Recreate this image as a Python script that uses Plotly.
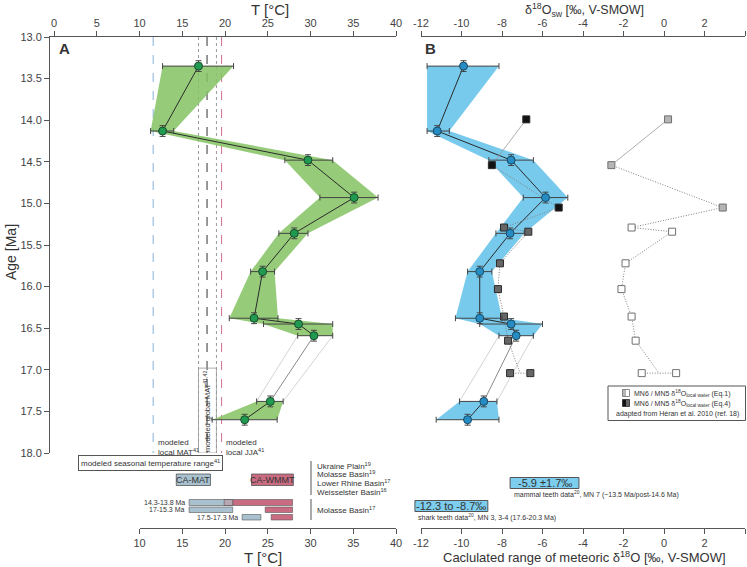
import plotly.graph_objects as go

W, H = 747, 567
FONT = "Liberation Sans, Arial, sans-serif"
TXT = "#333333"

# ---------------- data ----------------
age = [13.35, 14.13, 14.48, 14.93, 15.36, 15.82, 16.38, 16.45, 16.59, 17.38, 17.60]
age_err = 0.065

T_mean = [16.9, 12.7, 29.7, 35.1, 28.1, 24.4, 23.4, 28.6, 30.4, 25.3, 22.3]
T_low = [12.7, 11.3, 27.0, 31.1, 26.3, 23.0, 20.5, 24.5, 28.5, 23.7, 18.5]
T_high = [21.0, 14.0, 32.6, 37.9, 29.7, 25.8, 26.2, 32.6, 32.6, 26.8, 26.1]

d18O_mean = [-9.9, -11.2, -7.55, -5.85, -7.6, -9.1, -9.1, -7.55, -7.3, -8.9, -9.7]
d18O_low = [-11.7, -11.7, -8.65, -6.95, -8.3, -9.7, -10.3, -9.1, -8.15, -10.1, -11.25]
d18O_high = [-8.15, -10.6, -6.45, -4.75, -6.9, -8.5, -8.0, -6.0, -6.45, -8.25, -8.15]

shaded_groups = [(0, 9), (9, 11)]

sq_age = [13.99, 14.54, 15.05, 15.29, 15.34, 15.72, 16.03, 16.36, 16.65, 17.04, 17.04]
sq_eq4 = [-6.8, -8.5, -5.2, -7.9, -6.7, -8.1, -8.2, -7.9, -7.7, -7.6, -6.6]
sq_eq1 = [0.2, -2.6, 2.9, -1.6, 0.4, -1.9, -2.1, -1.6, -1.4, -1.1, 0.6]
sq_stage = ["MN6", "MN6", "MN6", "MN5", "MN5", "MN5", "MN5", "MN5", "MN5", "MN5", "MN5"]

ref_T = [11.6, 16.9, 17.9, 19.0, 19.6]
ref_colors = ["#86b2d6", "#9a9a9a", "#333333", "#9a9a9a", "#d0708e"]
ref_dash = ["dash", "dot", "dash", "dot", "dash"]

ca_mat = (14.3, 18.3)
ca_wmmt = (23.1, 28.0)

molasse_labels = ["14.3-13.8 Ma", "17-15.3 Ma", "17.5-17.3 Ma"]
molasse_mat = [(15.8, 20.9), (15.8, 20.9), (22.0, 24.2)]
molasse_wmmt = [(19.9, 27.9), (24.7, 27.9), (25.4, 27.9)]

basins_a = ["Ukraine Plain<sup>19</sup>", "Molasse Basin<sup>19</sup>",
            "Lower Rhine Basin<sup>17</sup>", "Weisselster Basin<sup>16</sup>"]

mammal_mean, mammal_sd = -5.9, 1.7
shark_range = (-12.3, -8.7)

T_ticks = [0, 5, 10, 15, 20, 25, 30, 35, 40]
T_ticks_bottom = [10, 15, 20, 25, 30, 35, 40]
age_ticks = [13.0, 13.5, 14.0, 14.5, 15.0, 15.5, 16.0, 16.5, 17.0, 17.5, 18.0]
d_ticks = [-12, -10, -8, -6, -4, -2, 0, 2, 4]

# ---------------- styling ----------------
GREEN_FILL = "rgba(132,195,98,0.85)"
GREEN_PT = "#1f9a50"
BLUE_FILL = "rgba(108,198,236,0.92)"
BLUE_PT = "#268dc4"
DOT = "1px,1.6px"


def X(px):
    return px / W


def Y(py):
    return 1 - py / H


fig = go.Figure()


def add_panel(xa, low, mean, high, fill, ptcol, ptline):
    for s, e in shaded_groups:
        xs = low[s:e] + high[s:e][::-1]
        ys = age[s:e] + age[s:e][::-1]
        fig.add_trace(go.Scatter(x=xs, y=ys, fill="toself", fillcolor=fill, mode="lines",
                                 line=dict(width=0), xaxis=xa, yaxis="y", hoverinfo="skip",
                                 showlegend=False))
    for (s1, e1), (s2, e2) in zip(shaded_groups[:-1], shaded_groups[1:]):
        a, b = e1 - 1, s2
        for arr in (low, high):
            fig.add_trace(go.Scatter(x=[arr[a], arr[b]], y=[age[a], age[b]], mode="lines",
                                     line=dict(width=0.8, color="#c8c8c8"), xaxis=xa, yaxis="y",
                                     hoverinfo="skip", showlegend=False))
        fig.add_trace(go.Scatter(x=[mean[a], mean[b]], y=[age[a], age[b]], mode="lines",
                                 line=dict(width=1, color="#8a8a8a"), xaxis=xa, yaxis="y",
                                 hoverinfo="skip", showlegend=False))
    for s, e in shaded_groups:
        fig.add_trace(go.Scatter(x=mean[s:e], y=age[s:e], mode="lines",
                                 line=dict(width=1, color="#2a2a2a"), xaxis=xa, yaxis="y",
                                 hoverinfo="skip", showlegend=False))
    return dict(
        x=mean, y=age, mode="markers", xaxis=xa, yaxis="y", showlegend=False,
        marker=dict(size=8, color=ptcol, line=dict(color=ptline, width=1)),
        error_x=dict(type="data", symmetric=False,
                     array=[h - m for h, m in zip(high, mean)],
                     arrayminus=[m - l for m, l in zip(mean, low)],
                     color="#444", thickness=1, width=3),
        error_y=dict(type="data", array=[age_err] * len(age), color="#444", thickness=1, width=3),
    )


ptsA = add_panel("x", T_low, T_mean, T_high, GREEN_FILL, GREEN_PT, "#1c4a2c")
ptsB = add_panel("x2", d18O_low, d18O_mean, d18O_high, BLUE_FILL, BLUE_PT, "#1b4862")


def add_squares(vals, colors_by_stage, edge):
    mid = (vals[9] + vals[10]) / 2
    px_ = vals[0:9] + [mid]
    py_ = sq_age[0:9] + [sq_age[9]]
    fig.add_trace(go.Scatter(x=px_[0:2], y=py_[0:2], mode="lines", line=dict(color="#999", width=0.8),
                             xaxis="x2", yaxis="y", hoverinfo="skip", showlegend=False))
    fig.add_trace(go.Scatter(x=px_[1:], y=py_[1:], mode="lines",
                             line=dict(color="#808080", width=1, dash=DOT),
                             xaxis="x2", yaxis="y", hoverinfo="skip", showlegend=False))
    fig.add_trace(go.Scatter(x=vals[9:11], y=sq_age[9:11], mode="lines",
                             line=dict(color="#808080", width=1, dash=DOT),
                             xaxis="x2", yaxis="y", hoverinfo="skip", showlegend=False))
    fig.add_trace(go.Scatter(x=vals, y=sq_age, mode="markers", xaxis="x2", yaxis="y",
                             showlegend=False,
                             marker=dict(symbol="square", size=7,
                                         color=[colors_by_stage[s] for s in sq_stage],
                                         line=dict(color=edge, width=1))))


add_squares(sq_eq1, {"MN6": "#b5b5b5", "MN5": "#ffffff"}, "#707070")
add_squares(sq_eq4, {"MN6": "#121212", "MN5": "#666666"}, "#2a2a2a")

fig.add_trace(go.Scatter(**ptsA))
fig.add_trace(go.Scatter(**ptsB))

for xa in ("x3", "x4", "x5"):
    fig.add_trace(go.Scatter(x=[None], y=[None], xaxis=xa, yaxis="y", mode="markers",
                             showlegend=False, hoverinfo="skip"))

# ---------------- shapes ----------------
shapes = []
for t, c, d in zip(ref_T, ref_colors, ref_dash):
    shapes.append(dict(type="line", xref="x", yref="y", x0=t, x1=t, y0=13, y1=18,
                       line=dict(color=c, width=1, dash=d), layer="below"))
shapes.append(dict(type="rect", xref="x", yref="y", x0=ref_T[1], x1=ref_T[3], y0=16.98, y1=18.0,
                   line=dict(color="#999", width=0.8), layer="below"))

for (a, b), col in ((ca_mat, "#a9c1cf"), (ca_wmmt, "#c96c82")):
    shapes.append(dict(type="rect", xref="x", yref="paper", x0=a, x1=b, y0=Y(485.5), y1=Y(474),
                       fillcolor=col, line=dict(color="#555", width=0.8)))

row_y = [(499.5, 505.5), (507, 512.5), (514.5, 520)]
for (m0, m1), (w0, w1), (ya, yb) in zip(molasse_mat, molasse_wmmt, row_y):
    shapes.append(dict(type="rect", xref="x", yref="paper", x0=w0, x1=w1, y0=Y(yb), y1=Y(ya),
                       fillcolor="#c96c82", line=dict(color="#555", width=0.6)))
    shapes.append(dict(type="rect", xref="x", yref="paper", x0=m0, x1=m1, y0=Y(yb), y1=Y(ya),
                       fillcolor="#a9c1cf", line=dict(color="#555", width=0.6)))
    lo, hi = max(m0, w0), min(m1, w1)
    if hi > lo:
        shapes.append(dict(type="rect", xref="x", yref="paper", x0=lo, x1=hi, y0=Y(yb), y1=Y(ya),
                           fillcolor="#b8a6b3", line=dict(color="#555", width=0.6)))

shapes.append(dict(type="line", xref="paper", yref="paper", x0=X(311), x1=X(311), y0=Y(495), y1=Y(461),
                   line=dict(color="#aaa", width=2)))
shapes.append(dict(type="line", xref="paper", yref="paper", x0=X(311), x1=X(311), y0=Y(520), y1=Y(499),
                   line=dict(color="#aaa", width=2)))

for (a, b), (ya, yb) in (((mammal_mean - mammal_sd, mammal_mean + mammal_sd), (477.5, 488.5)),
                         (shark_range, (500.5, 511.5))):
    shapes.append(dict(type="rect", xref="x5", yref="paper", x0=a, x1=b, y0=Y(yb), y1=Y(ya),
                       fillcolor="#7ccdee", line=dict(color="#555", width=1)))

shapes.append(dict(type="rect", xref="paper", yref="paper", x0=X(608), x1=X(745.5), y0=Y(420.5), y1=Y(386),
                   fillcolor="white", line=dict(color="#555", width=1)))
for (y0, y1), (cl, cr), edge in (((389.5, 396.5), ("#b5b5b5", "#ffffff"), "#707070"),
                                 ((399.5, 406.5), ("#121212", "#666666"), "#2a2a2a")):
    shapes.append(dict(type="rect", xref="paper", yref="paper", x0=X(622.5), x1=X(626), y0=Y(y1), y1=Y(y0),
                       fillcolor=cl, line=dict(width=0)))
    shapes.append(dict(type="rect", xref="paper", yref="paper", x0=X(626), x1=X(629.5), y0=Y(y1), y1=Y(y0),
                       fillcolor=cr, line=dict(width=0)))
    shapes.append(dict(type="rect", xref="paper", yref="paper", x0=X(622.5), x1=X(629.5), y0=Y(y1), y1=Y(y0),
                       line=dict(color=edge, width=0.8)))

# ---------------- annotations ----------------
ann = []


def text(x, y, s, size=8, xanchor="left", yanchor="middle", xref="paper", color=TXT, **kw):
    ann.append(dict(x=x, y=y, text=s, xref=xref, yref="paper", showarrow=False, xanchor=xanchor,
                    yanchor=yanchor, font=dict(family=FONT, size=size, color=color), **kw))


text(X(270), Y(9.5), "T [°C]", size=15, xanchor="center")
text(X(263), Y(557), "T [°C]", size=15, xanchor="center")
text(X(584), Y(10), "δ<sup>18</sup>O<sub>sw</sub> [‰, V-SMOW]", size=12.5, xanchor="center")
text(X(584), Y(557), "Caclulated range of meteoric δ<sup>18</sup>O [‰, V-SMOW]", size=13, xanchor="center")
text(X(11), Y(252), "Age [Ma]", size=14, xanchor="center", textangle=-90)
text(X(57), Y(49), "<b>A</b>", size=15)
text(X(423), Y(49), "<b>B</b>", size=15)

text(ref_T[0] + 0.3, Y(447), "modeled<br>local MAT<sup>41</sup>", size=8, xref="x", align="left")
text(ref_T[4] + 0.3, Y(447), "modeled<br>local JJA<sup>41</sup>", size=8, xref="x", align="left")
text(ref_T[2], Y(412), "modeled global MAT<sup>41,42</sup>", size=7.5, xref="x", xanchor="center",
     textangle=-90)
text((ref_T[0] + ref_T[4]) / 2 - 4.3, Y(462.5), "modeled seasonal temperature range<sup>41</sup>", size=8,
     xref="x", xanchor="center", bordercolor="#555", borderwidth=1, borderpad=2, bgcolor="white")

text(sum(ca_mat) / 2, Y(479.8), "CA-MAT", size=9, xref="x", xanchor="center")
text(sum(ca_wmmt) / 2, Y(479.8), "CA-WMMT", size=9, xref="x", xanchor="center")
for lab, (m0, m1), (ya, yb) in zip(molasse_labels, molasse_mat, row_y):
    text(m0 - 0.25, Y((ya + yb) / 2), lab, size=7, xref="x", xanchor="right")

for i, b in enumerate(basins_a):
    text(X(315), Y(465.5 + 8.8 * i), b, size=8)
text(X(315), Y(510), "Molasse Basin<sup>17</sup>", size=8)

text(mammal_mean, Y(483), f"{mammal_mean} ±{mammal_sd}‰", size=11, xref="x5", xanchor="center")
text(mammal_mean - mammal_sd + 0.1, Y(494.5),
     "mammal teeth data<sup>20</sup>, MN 7 (~13.5 Ma/post-14.6 Ma)", size=7, xref="x5")
text(sum(shark_range) / 2, Y(506), f"{shark_range[0]} to {shark_range[1]}‰", size=11, xref="x5",
     xanchor="center")
text(shark_range[0] + 0.05, Y(517.5), "shark teeth data<sup>20</sup>, MN 3, 3-4 (17.6-20.3 Ma)", size=7,
     xref="x5")

text(X(632), Y(393), "MN6 / MN5 δ<sup>18</sup>O<sub>local water</sub> (Eq.1)", size=7)
text(X(632), Y(403), "MN6 / MN5 δ<sup>18</sup>O<sub>local water</sub> (Eq.4)", size=7)
text(X(677), Y(413.5), "adapted from Héran et al. 2010 (ref. 18)", size=7, xanchor="center")

# ---------------- axes ----------------
ax_common = dict(showgrid=False, zeroline=False, showline=True, linecolor="#555", linewidth=1,
                 ticks="outside", ticklen=5, tickcolor="#555", tickwidth=1,
                 tickfont=dict(family=FONT, size=11, color="#444"), automargin=False)

xA_lo_px, xA_hi_px = 50, 396
xA_scale = (396 - 54) / 40.0
xB_lo_px, xB_hi_px = 421, 745
xB_scale = (xB_hi_px - xB_lo_px) / (d_ticks[-1] - d_ticks[0])
x5_lo_px = 400

fig.update_layout(
    width=W, height=H,
    margin=dict(l=0, r=0, t=0, b=0),
    paper_bgcolor="white", plot_bgcolor="rgba(0,0,0,0)",
    showlegend=False,
    font=dict(family=FONT, color=TXT),
    xaxis=dict(ax_common, domain=[X(xA_lo_px), X(xA_hi_px)],
               range=[-(54 - xA_lo_px) / xA_scale, 40], side="top", anchor="y",
               tickvals=T_ticks, ticktext=[str(v) for v in T_ticks]),
    yaxis=dict(ax_common, domain=[Y(453), Y(37)], range=[18, 13], anchor="x",
               tickvals=age_ticks, ticktext=[f"{v:.1f}" for v in age_ticks]),
    xaxis2=dict(ax_common, domain=[X(xB_lo_px), X(xB_hi_px)], range=[d_ticks[0], d_ticks[-1]],
                side="top", anchor="y", tickvals=d_ticks, ticktext=[str(v) for v in d_ticks]),
    xaxis3=dict(ax_common, domain=[X(139.5), X(396)], range=[10, 40], anchor="free", position=Y(528),
                side="bottom", tickvals=T_ticks_bottom, ticktext=[str(v) for v in T_ticks_bottom]),
    xaxis4=dict(ax_common, domain=[X(xB_lo_px), X(xB_hi_px)], range=[d_ticks[0], d_ticks[-1]],
                anchor="free", position=Y(528), side="bottom",
                tickvals=d_ticks, ticktext=[str(v) for v in d_ticks]),
    xaxis5=dict(domain=[X(x5_lo_px), X(xB_hi_px)],
                range=[d_ticks[0] - (xB_lo_px - x5_lo_px) / xB_scale, d_ticks[-1]],
                anchor="y", visible=False, showgrid=False, zeroline=False),
    shapes=shapes,
    annotations=ann,
)

fig.write_html("out.html", config={"displayModeBar": False},
               post_script="document.body.style.margin='0px';")
